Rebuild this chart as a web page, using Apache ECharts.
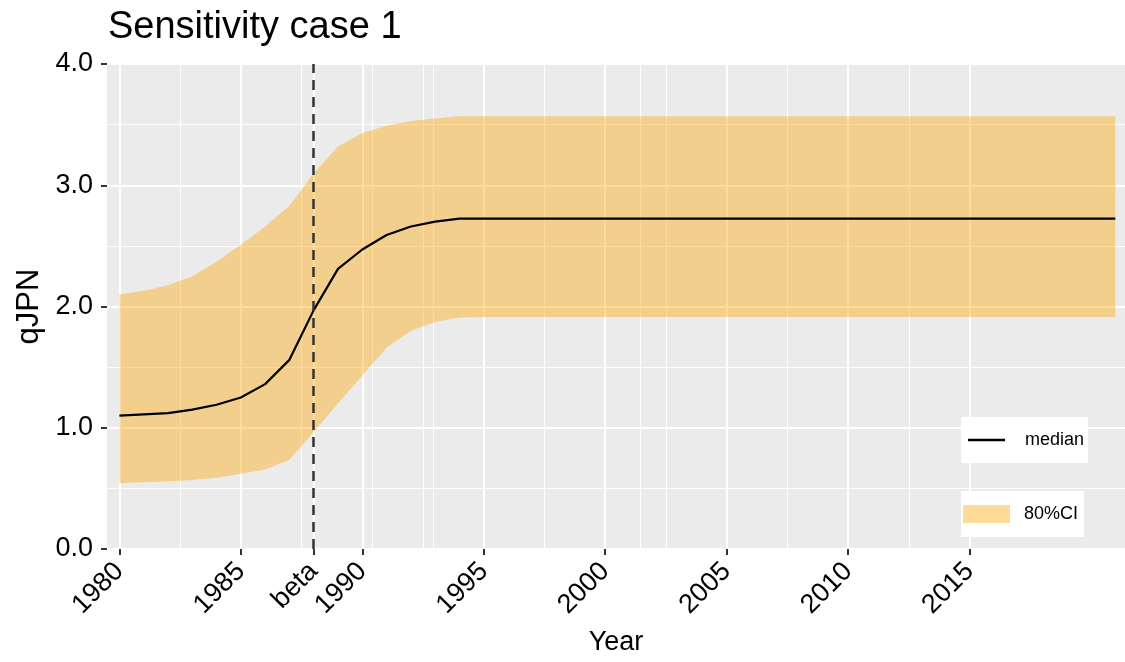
<!DOCTYPE html>
<html>
<head>
<meta charset="utf-8">
<title>Sensitivity case 1</title>
<script src="https://cdn.jsdelivr.net/npm/echarts@6/dist/echarts.min.js"></script>
<style>
  html, body { margin: 0; padding: 0; background: #fff; }
  #chart { width: 1125px; height: 662px; }
</style>
</head>
<body>
<div id="chart"></div>
<script>
// data
const years = [1980, 1981, 1982, 1983, 1984, 1985, 1986, 1987, 1988, 1989,
  1990, 1991, 1992, 1993, 1994, 1995, 1996, 1997, 1998, 1999,
  2000, 2001, 2002, 2003, 2004, 2005, 2006, 2007, 2008, 2009,
  2010, 2011, 2012, 2013, 2014, 2015, 2016, 2017, 2018, 2019,
  2020, 2021]
const median = [1.10, 1.11, 1.12, 1.15, 1.19, 1.25, 1.36, 1.56, 1.97, 2.31,
  2.47, 2.59, 2.66, 2.70, 2.725, 2.725, 2.725, 2.725, 2.725, 2.725,
  2.725, 2.725, 2.725, 2.725, 2.725, 2.725, 2.725, 2.725, 2.725, 2.725,
  2.725, 2.725, 2.725, 2.725, 2.725, 2.725, 2.725, 2.725, 2.725, 2.725,
  2.725, 2.725]
const upper = [2.10, 2.13, 2.175, 2.25, 2.37, 2.51, 2.66, 2.83, 3.10, 3.32,
  3.43, 3.49, 3.53, 3.55, 3.57, 3.57, 3.57, 3.57, 3.57, 3.57,
  3.57, 3.57, 3.57, 3.57, 3.57, 3.57, 3.57, 3.57, 3.57, 3.57,
  3.57, 3.57, 3.57, 3.57, 3.57, 3.57, 3.57, 3.57, 3.57, 3.57,
  3.57, 3.57]
const lower = [0.543, 0.55, 0.557, 0.57, 0.588, 0.62, 0.656, 0.737, 0.965, 1.20,
  1.43, 1.66, 1.80, 1.873, 1.91, 1.914, 1.914, 1.914, 1.914, 1.914,
  1.914, 1.914, 1.914, 1.914, 1.914, 1.914, 1.914, 1.914, 1.914, 1.914,
  1.914, 1.914, 1.914, 1.914, 1.914, 1.914, 1.914, 1.914, 1.914, 1.914,
  1.914, 1.914]
const beta = 1988
const xTicks = [1980, 1985, beta, 1990, 1995, 2000, 2005, 2010, 2015]
const xMinorGrid = [1982.5, 1987.5, 1990.4, 1992.5, 1992.93, 1997.5, 2001.46, 2002.5, 2007.5, 2012.5]

const FONT = "'Liberation Sans', Arial, sans-serif"
const BAND = 'rgba(255,165,0,0.4)'

const chart = echarts.init(document.getElementById('chart'))

const pairs = arr => years.map((y, i) => [y, arr[i]])

// white vertical grid lines (drawn under the band)
const gridLines = [
  ...xTicks.map(v => ({ xAxis: v, lineStyle: { color: '#fff', width: 2, type: 'solid' } })),
  ...xMinorGrid.map(v => ({ xAxis: v, lineStyle: { color: '#fff', width: 1, type: 'solid' } }))
]

// band polygon: upper edge left->right, lower edge right->left
const renderBand = (params, api) => {
  if (params.dataIndex !== 0) return
  const pts = []
  for (let i = 0; i < years.length; i++) pts.push(api.coord([years[i], upper[i]]))
  for (let i = years.length - 1; i >= 0; i--) pts.push(api.coord([years[i], lower[i]]))
  return {
    type: 'polygon',
    shape: { points: pts },
    style: { fill: BAND }
  }
}

chart.setOption({
  backgroundColor: '#fff',
  animation: false,
  textStyle: { fontFamily: FONT },
  title: {
    text: 'Sensitivity case 1',
    left: 103,
    top: 4,
    textStyle: { fontFamily: FONT, fontSize: 38, fontWeight: 'normal', color: '#000' }
  },
  grid: {
    left: 107,
    right: 0,
    top: 64,
    bottom: 113,
    show: true,
    backgroundColor: '#ebebeb',
    borderWidth: 0
  },
  legend: [{
    data: [{ name: 'median', icon: 'rect', itemStyle: { color: '#000' } }],
    left: 961,
    top: 417,
    orient: 'vertical',
    backgroundColor: '#fff',
    padding: [14, 4, 14, 7],
    itemWidth: 37,
    itemHeight: 2.5,
    textStyle: { fontFamily: FONT, fontSize: 18, color: '#000', padding: [0, 0, 0, 15] },
    selectedMode: false
  }, {
    data: [{ name: '80%CI', icon: 'rect', itemStyle: { color: BAND } }],
    left: 961,
    top: 491,
    orient: 'vertical',
    backgroundColor: '#fff',
    padding: [14, 6, 14, 2],
    itemWidth: 47,
    itemHeight: 18,
    textStyle: { fontFamily: FONT, fontSize: 18, color: '#000', padding: [0, 0, 0, 9] },
    selectedMode: false
  }],
  xAxis: {
    type: 'value',
    min: 1979.49,
    max: 2021.4,
    name: 'Year',
    nameLocation: 'middle',
    nameGap: 80,
    nameTextStyle: { fontFamily: FONT, fontSize: 27, color: '#000' },
    axisLine: { show: false },
    axisTick: { show: true, length: 6, customValues: xTicks, lineStyle: { color: '#333', width: 2 } },
    axisLabel: {
      customValues: xTicks,
      rotate: 45,
      margin: 18,
      fontSize: 27,
      color: '#000',
      fontFamily: FONT,
      formatter: v => (v === beta ? 'beta' : String(v))
    },
    splitLine: { show: false }
  },
  yAxis: {
    type: 'value',
    min: 0,
    max: 4,
    interval: 1,
    name: 'qJPN',
    nameLocation: 'middle',
    nameGap: 61,
    nameTextStyle: { fontFamily: FONT, fontSize: 31, color: '#000' },
    axisLine: { show: false },
    axisTick: { show: true, length: 6, lineStyle: { color: '#333', width: 2 } },
    axisLabel: {
      margin: 14,
      fontSize: 27,
      color: '#000',
      fontFamily: FONT,
      formatter: v => v.toFixed(1)
    },
    splitLine: { show: true, lineStyle: { color: '#fff', width: 2 } },
    minorTick: { show: false, splitNumber: 2 },
    minorSplitLine: { show: true, lineStyle: { color: '#fff', width: 1 } }
  },
  series: [{
    name: 'grid',
    type: 'line',
    data: pairs(lower),
    symbol: 'none',
    lineStyle: { opacity: 0 },
    z: 1,
    silent: true,
    markLine: {
      silent: true,
      symbol: 'none',
      z: 1,
      label: { show: false },
      data: gridLines
    }
  }, {
    name: '80%CI',
    type: 'custom',
    data: years.map((y, i) => [y, lower[i], upper[i]]),
    encode: { x: 0, y: [1, 2] },
    renderItem: renderBand,
    itemStyle: { color: BAND },
    z: 2,
    silent: true
  }, {
    name: 'median',
    type: 'line',
    data: pairs(median),
    symbol: 'none',
    itemStyle: { color: '#000' },
    lineStyle: { color: '#000', width: 2.2 },
    z: 3,
    markLine: {
      silent: true,
      symbol: 'none',
      z: 5,
      label: { show: false },
      lineStyle: { color: '#333', width: 2.5, type: [10, 7] },
      data: [{ xAxis: beta }]
    }
  }]
})
</script>
</body>
</html>
